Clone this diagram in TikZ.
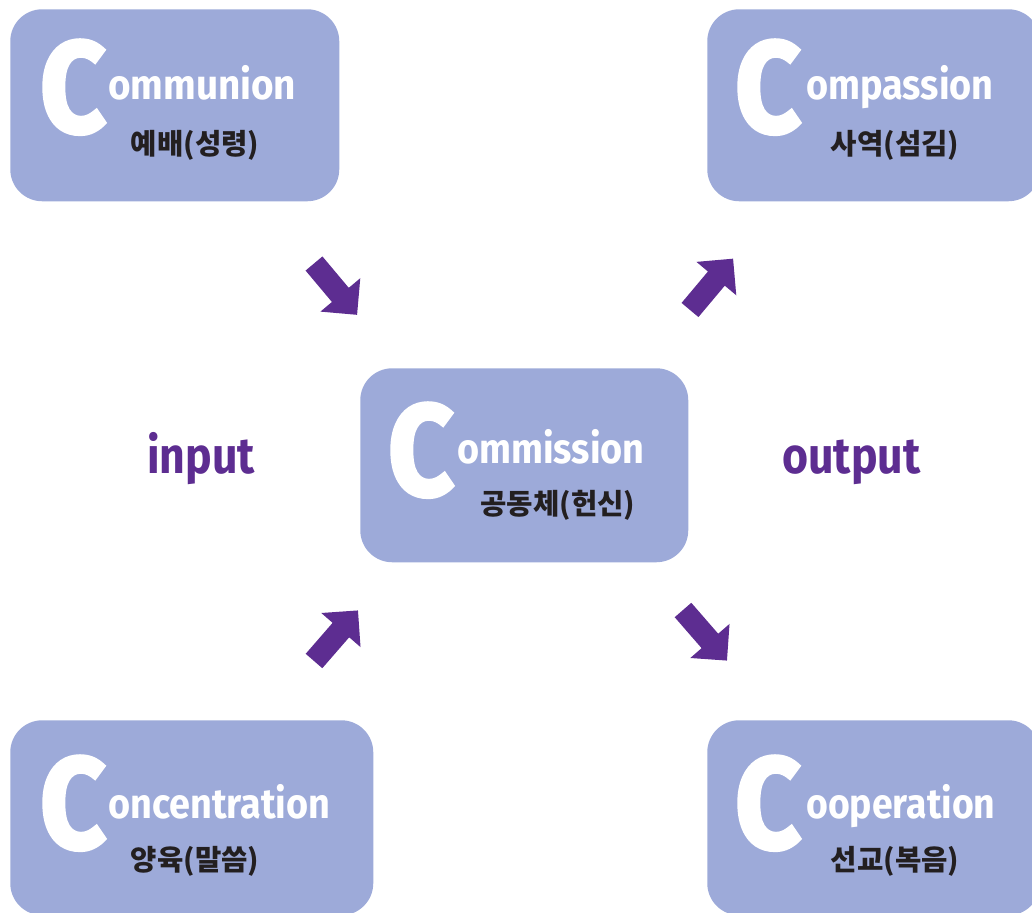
\documentclass[tikz,border=0pt]{standalone}
\usepackage{fontspec}
\setmainfont{Fira Sans}
\newfontfamily\cfont{Fira Sans}[BoldFeatures={FakeBold=3}]
\newfontfamily\kfont{Noto Sans CJK KR}
\definecolor{boxc}{RGB}{157,170,217}
\definecolor{purp}{RGB}{93,45,145}
\definecolor{ktext}{RGB}{35,31,32}
\tikzset{
  box/.style={fill=boxc, rounded corners=24pt, inner sep=0pt, anchor=north west},
  bigC/.style={text=white, inner sep=0pt, anchor=base west, font=\cfont\fontsize{97}{97}\selectfont\bfseries},
  word/.style={text=white, inner sep=0pt, anchor=base west, font=\fontsize{31.5}{31.5}\selectfont\bfseries},
  kor/.style={text=ktext, inner sep=0pt, anchor=center, font=\kfont\fontsize{21.5}{21.5}\selectfont\bfseries},
  io/.style={text=purp, inner sep=0pt, anchor=base west, font=\fontsize{38}{38}\selectfont\bfseries},
  blockarrow/.pic={\fill[purp] (0,-11) -- (41,-11) -- (41,-26) -- (67,0) -- (41,26) -- (41,11) -- (0,11) -- cycle;}
}
\begin{document}
\begin{tikzpicture}[x=0.75pt, y=-0.75pt]
\useasboundingbox (0,0) rectangle (1032,913);
\clip (0,0) rectangle (1032,913);
% boxes
\node[box, minimum width=246.75pt, minimum height=144pt] (tl) at (10,9) {};
\node[box, minimum width=249.75pt, minimum height=144pt] (tr) at (707,9) {};
\node[box, minimum width=246pt, minimum height=145.5pt] (ct) at (360,368) {};
\node[box, minimum width=272.25pt, minimum height=146.25pt] (bl) at (10,720) {};
\node[box, minimum width=249.75pt, minimum height=146.25pt] (br) at (707,720) {};
% top-left
\node[bigC] (tlC) at (40,132) {\scalebox{0.88}[1]{C}};
\node[word] (tlW) at (108,100) {\scalebox{0.92}[1]{ommunion}};
\node[kor] (tlK) at (195,145) {예배(성령)};
% top-right
\node[bigC] (trC) at (735,132) {\scalebox{0.88}[1]{C}};
\node[word] (trW) at (806,100) {\scalebox{0.9}[1]{ompassion}};
\node[kor] (trK) at (895,145) {사역(섬김)};
% center
\node[bigC] (ctC) at (388,495) {\scalebox{0.88}[1]{C}};
\node[word] (ctW) at (457,463) {\scalebox{0.9}[1]{ommission}};
\node[kor] (ctK) at (558,505) {공동체(헌신)};
% bottom-left
\node[bigC] (blC) at (40,848) {\scalebox{0.88}[1]{C}};
\node[word] (blW) at (108,818) {\scalebox{0.9}[1]{oncentration}};
\node[kor] (blK) at (195,861) {양육(말씀)};
% bottom-right
\node[bigC] (brC) at (735,848) {\scalebox{0.88}[1]{C}};
\node[word] (brW) at (806,818) {\scalebox{0.89}[1]{ooperation}};
\node[kor] (brK) at (895,861) {선교(복음)};
% input / output
\node[io] (in) at (147,473) {\scalebox{0.88}[1]{input}};
\node[io] (out) at (782,473) {\scalebox{0.88}[1]{output}};
% arrows
\coordinate (a1) at (314,263.5);
\coordinate (a2) at (690,310);
\coordinate (a3) at (314,661);
\coordinate (a4) at (683,610);
\pic[rotate=-50] at (a1) {blockarrow};
\pic[rotate=50] at (a2) {blockarrow};
\pic[rotate=49] at (a3) {blockarrow};
\pic[rotate=-49] at (a4) {blockarrow};
\end{tikzpicture}
\end{document}
